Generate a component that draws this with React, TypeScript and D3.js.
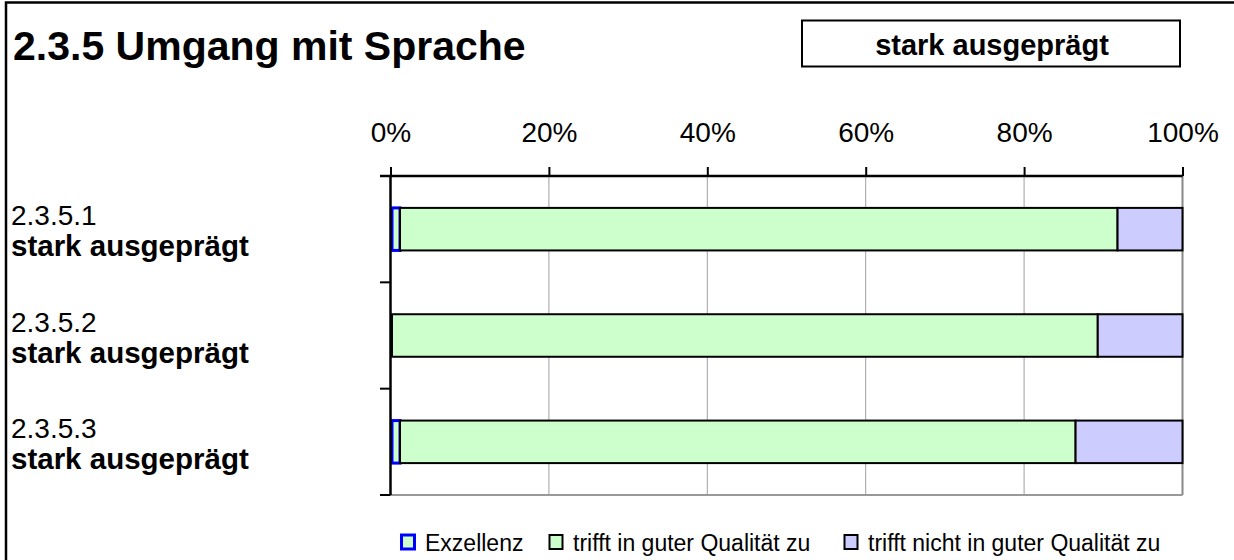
import React, { useEffect, useRef } from "react";
import * as d3 from "d3";

// chart values
const categories = ["2.3.5.1", "2.3.5.2", "2.3.5.3"];
const ratings = ["stark ausgeprägt", "stark ausgeprägt", "stark ausgeprägt"];
const seriesNames = ["Exzellenz", "trifft in guter Qualität zu", "trifft nicht in guter Qualität zu"];
const exzellenz = [1.2, 0, 1.2];
const gut = [90.6, 89.3, 85.3];
const nichtGut = [8.2, 10.7, 13.5];
const xTicks = [0, 20, 40, 60, 80, 100];
const title = "2.3.5 Umgang mit Sprache";
const overall = "stark ausgeprägt";

const fills = ["#CCFFCC", "#CCFFCC", "#CCCCFF"];
const strokes = ["#0000FF", "#000000", "#000000"];
const legendX = [400, 548, 843];
const FONT = "'Liberation Sans', Arial, sans-serif";

function App() {
  const svgRef = useRef(null);

  useEffect(() => {
    const svg = d3.select(svgRef.current);
    svg.selectAll("*").remove();

    const rows = categories.map((c, i) => ({
      cat: c,
      [seriesNames[0]]: exzellenz[i],
      [seriesNames[1]]: gut[i],
      [seriesNames[2]]: nichtGut[i]
    }));
    const layers = d3.stack().keys(seriesNames)(rows);

    const plot = { left: 390.5, right: 1182.5, top: 176, bottom: 495 };

    const x = d3.scaleLinear().domain([0, 100]).range([plot.left, plot.right]);
    const y = d3
      .scaleBand()
      .domain(categories)
      .range([plot.top, plot.bottom])
      .paddingInner(0.6)
      .paddingOuter(0.3);

    // outer frame
    svg
      .append("rect")
      .attr("x", 6)
      .attr("y", 2.5)
      .attr("width", 1300)
      .attr("height", 600)
      .attr("fill", "#fff")
      .attr("stroke", "#000")
      .attr("stroke-width", 2.5);

    svg
      .append("text")
      .attr("x", 13)
      .attr("y", 60)
      .attr("font-family", FONT)
      .attr("font-weight", "bold")
      .attr("font-size", 41)
      .text(title);

    // rating box top right
    svg
      .append("rect")
      .attr("x", 802)
      .attr("y", 20.5)
      .attr("width", 378)
      .attr("height", 46)
      .attr("fill", "#fff")
      .attr("stroke", "#000")
      .attr("stroke-width", 2);
    svg
      .append("text")
      .attr("x", 992)
      .attr("y", 54.5)
      .attr("text-anchor", "middle")
      .attr("font-family", FONT)
      .attr("font-weight", "bold")
      .attr("font-size", 29)
      .text(overall);

    // grid
    svg
      .append("g")
      .selectAll("line")
      .data(xTicks.slice(1))
      .join("line")
      .attr("x1", (d) => x(d))
      .attr("x2", (d) => x(d))
      .attr("y1", plot.top)
      .attr("y2", plot.bottom)
      .attr("stroke", "#888")
      .attr("stroke-width", (d) => (d === 100 ? 2 : 0.8));
    svg
      .append("line")
      .attr("x1", plot.left)
      .attr("x2", plot.right)
      .attr("y1", plot.bottom)
      .attr("y2", plot.bottom)
      .attr("stroke", "#999")
      .attr("stroke-width", 2);

    // bars
    svg
      .selectAll(".layer")
      .data(layers)
      .join("g")
      .attr("class", "layer")
      .attr("fill", (l, i) => fills[i])
      .attr("stroke", (l, i) => strokes[i])
      .attr("stroke-width", (l, i) => (i === 0 ? 3 : 2))
      .selectAll("rect")
      .data((l) => l.filter((s) => s[1] - s[0] > 0))
      .join("rect")
      .attr("x", (s) => x(s[0]) + (s[0] === 0 ? 1.5 : 0))
      .attr("width", (s) => x(s[1]) - x(s[0]) - (s[0] === 0 ? 1.5 : 0))
      .attr("y", (s) => y(s.data.cat))
      .attr("height", y.bandwidth());

    // top axis
    const xAxis = d3
      .axisTop(x)
      .tickValues(xTicks)
      .tickFormat((d) => d + "%")
      .tickSize(9)
      .tickSizeOuter(0)
      .tickPadding(25);
    const gx = svg.append("g").attr("transform", `translate(0,${plot.top})`).call(xAxis);
    gx.select(".domain").attr("stroke", "#000").attr("stroke-width", 2.5).attr("d", `M380,0H${plot.right}`);
    gx.selectAll(".tick line").attr("stroke", "#000").attr("stroke-width", 2);
    gx.selectAll(".tick text")
      .attr("font-family", FONT)
      .attr("font-size", 28)
      .attr("fill", "#000");

    // left axis with category separators
    svg
      .append("line")
      .attr("x1", plot.left)
      .attr("x2", plot.left)
      .attr("y1", plot.top)
      .attr("y2", plot.bottom)
      .attr("stroke", "#000")
      .attr("stroke-width", 2.5);
    const step = y.step();
    svg
      .append("g")
      .selectAll("line")
      .data(d3.range(categories.length + 1))
      .join("line")
      .attr("x1", 380)
      .attr("x2", plot.left)
      .attr("y1", (i) => plot.top + i * step)
      .attr("y2", (i) => plot.top + i * step)
      .attr("stroke", "#000")
      .attr("stroke-width", 2);

    // category labels
    const lab = svg
      .append("g")
      .selectAll("text")
      .data(categories)
      .join("text")
      .attr("font-family", FONT)
      .attr("font-size", 28)
      .attr("x", 11)
      .attr("y", (c) => y(c) + y.bandwidth() / 2 - 4);
    lab.append("tspan").text((c) => c);
    lab
      .append("tspan")
      .attr("x", 11)
      .attr("dy", 31)
      .attr("font-weight", "bold")
      .attr("font-size", 29.5)
      .text((c, i) => ratings[i]);

    // legend
    const leg = svg.append("g").attr("transform", "translate(0,551)");
    seriesNames.forEach((name, i) => {
      leg
        .append("rect")
        .attr("x", legendX[i] + 1.5)
        .attr("y", -16)
        .attr("width", 13)
        .attr("height", 14)
        .attr("fill", fills[i])
        .attr("stroke", strokes[i])
        .attr("stroke-width", i === 0 ? 3 : 2);
      leg
        .append("text")
        .attr("x", legendX[i] + 25)
        .attr("y", 0)
        .attr("font-family", FONT)
        .attr("font-size", 23)
        .text(name);
    });
  }, []);

  return (
    <svg
      ref={svgRef}
      width={1234}
      height={560}
      style={{ position: "absolute", left: 0, top: 0, display: "block" }}
    />
  );
}

export default App;
